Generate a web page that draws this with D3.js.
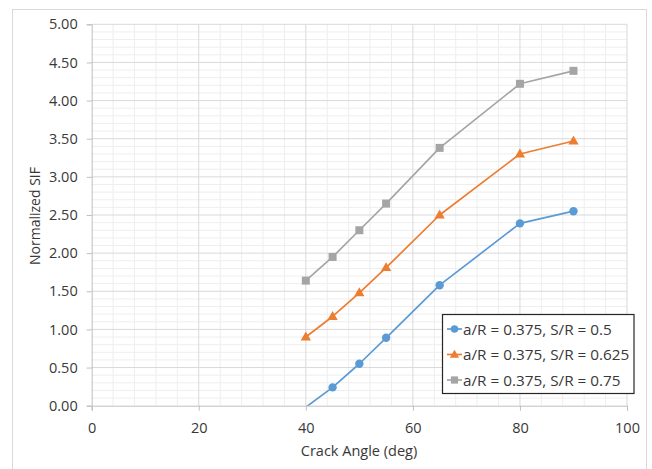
<!DOCTYPE html>
<html>
<head>
<meta charset="utf-8">
<script src="https://cdn.jsdelivr.net/npm/d3@7"></script>
<style>
  html, body { margin: 0; padding: 0; background: #fff; }
  svg { display: block; font-family: "Open Sans", "Noto Sans", sans-serif; }
</style>
</head>
<body>
<svg id="chart" width="652" height="469"></svg>
<script>
// Crack angle (deg) sampled for each configuration
const angles = [40, 45, 50, 55, 65, 80, 90];
// Normalized SIF for a/R = 0.375 at three S/R ratios
const sifS050 = [-0.02, 0.24, 0.55, 0.89, 1.58, 2.39, 2.55];
const sifS0625 = [0.90, 1.17, 1.48, 1.81, 2.50, 3.30, 3.47];
const sifS075 = [1.64, 1.95, 2.30, 2.65, 3.38, 4.22, 4.39];

const seriesNames = ["a/R = 0.375, S/R = 0.5", "a/R = 0.375, S/R = 0.625", "a/R = 0.375, S/R = 0.75"];
const xTicks = [0, 20, 40, 60, 80, 100];
const yTicks = [0, 0.5, 1, 1.5, 2, 2.5, 3, 3.5, 4, 4.5, 5];
const xTitle = "Crack Angle (deg)";
const yTitle = "Normalized SIF";

const series = [
  { name: seriesNames[0], values: sifS050, color: "#5B9BD5", marker: "circle" },
  { name: seriesNames[1], values: sifS0625, color: "#ED7D31", marker: "triangle" },
  { name: seriesNames[2], values: sifS075, color: "#A5A5A5", marker: "square" }
];

const textColor = "#383838";
const svg = d3.select("#chart");
const plot = { left: 91.7, right: 627, top: 24.3, bottom: 405.7 };

const x = d3.scaleLinear().domain([0, 100]).range([plot.left, plot.right]);
const y = d3.scaleLinear().domain([0, 5]).range([plot.bottom, plot.top]);

// Chart area frame
svg.append("rect")
  .attr("x", 12.5).attr("y", 9.5)
  .attr("width", 634).attr("height", 480)
  .attr("fill", "#fff").attr("stroke", "#d9d9d9");

// Minor gridlines
const gMinor = svg.append("g").attr("stroke", "#eeeeee").attr("stroke-width", 1);
d3.range(4, 100, 4).filter(v => v % 20 !== 0).forEach(v => {
  gMinor.append("line").attr("x1", x(v)).attr("x2", x(v)).attr("y1", y(0)).attr("y2", y(5));
});
d3.range(1, 50).filter(i => i % 5 !== 0).forEach(i => {
  const v = i / 10;
  gMinor.append("line").attr("x1", x(0)).attr("x2", x(100)).attr("y1", y(v)).attr("y2", y(v));
});

// Major gridlines
const gMajor = svg.append("g").attr("stroke", "#d9d9d9").attr("stroke-width", 1);
xTicks.filter(v => v !== 0).forEach(v => {
  gMajor.append("line").attr("x1", x(v)).attr("x2", x(v)).attr("y1", y(0)).attr("y2", y(5));
});
yTicks.filter(v => v !== 0).forEach(v => {
  gMajor.append("line").attr("x1", x(0)).attr("x2", x(100)).attr("y1", y(v)).attr("y2", y(v));
});

// Axes
const xAxis = d3.axisBottom(x).tickValues(xTicks).tickSize(5).tickPadding(12).tickFormat(d3.format("d"));
const yAxis = d3.axisLeft(y).tickValues(yTicks).tickSize(5).tickPadding(9).tickFormat(d3.format(".2f"));

const gx = svg.append("g").attr("transform", `translate(0,${y(0)})`).call(xAxis);
const gy = svg.append("g").attr("transform", `translate(${x(0)},0)`).call(yAxis);
[gx, gy].forEach(g => {
  g.select(".domain").attr("stroke", "#bfbfbf");
  g.selectAll(".tick line").attr("stroke", "#bfbfbf");
  g.selectAll(".tick text").attr("fill", textColor).style("font-size", "14.5px").style("font-family", "\"Open Sans\", sans-serif");
});

// Axis titles
svg.append("text")
  .attr("x", 359).attr("y", 456)
  .attr("text-anchor", "middle").attr("fill", textColor)
  .style("font-size", "14.5px").text(xTitle);
svg.append("text")
  .attr("transform", `translate(40,216) rotate(-90)`)
  .attr("text-anchor", "middle").attr("fill", textColor)
  .style("font-size", "14px").text(yTitle);

// Clip to plot area
svg.append("clipPath").attr("id", "plotClip")
  .append("rect").attr("x", plot.left).attr("y", plot.top)
  .attr("width", plot.right - plot.left).attr("height", plot.bottom - plot.top);

const line = d3.line().x(d => x(d[0])).y(d => y(d[1]));

function drawMarker(g, type, cx, cy, color, scale) {
  const k = scale || 1;
  if (type === "circle") {
    g.append("circle").attr("cx", cx).attr("cy", cy).attr("r", 4.2 * k).attr("fill", color);
  } else if (type === "triangle") {
    g.append("path").attr("d", d3.symbol(d3.symbolTriangle, 46 * k * k)())
      .attr("transform", `translate(${cx},${cy + 0.5})`).attr("fill", color);
  } else {
    const h = 4 * k;
    g.append("rect").attr("x", cx - h).attr("y", cy - h).attr("width", 2 * h).attr("height", 2 * h).attr("fill", color);
  }
}

series.forEach(s => {
  const pts = angles.map((a, i) => [a, s.values[i]]);
  const g = svg.append("g");
  g.append("path").datum(pts)
    .attr("clip-path", "url(#plotClip)")
    .attr("fill", "none").attr("stroke", s.color).attr("stroke-width", 1.7)
    .attr("stroke-linejoin", "round").attr("d", line);
  pts.filter(p => p[1] >= 0 && p[1] <= 5).forEach(p => drawMarker(g, s.marker, x(p[0]), y(p[1]), s.color));
});

// Legend
const legend = svg.append("g");
legend.append("rect")
  .attr("x", 442.5).attr("y", 314.5).attr("width", 191.5).attr("height", 79)
  .attr("fill", "#fff").attr("stroke", "#262626").attr("stroke-width", 1.2);
series.forEach((s, i) => {
  const cy = 329 + i * 25.5;
  const row = legend.append("g");
  row.append("line").attr("x1", 447).attr("x2", 462).attr("y1", cy).attr("y2", cy)
    .attr("stroke", s.color).attr("stroke-width", 1.7);
  drawMarker(row, s.marker, 454.5, cy, s.color, 0.9);
  row.append("text").attr("x", 463).attr("y", cy + 5.5)
    .attr("fill", textColor).style("font-size", "15.3px").text(s.name);
});
</script>
</body>
</html>
